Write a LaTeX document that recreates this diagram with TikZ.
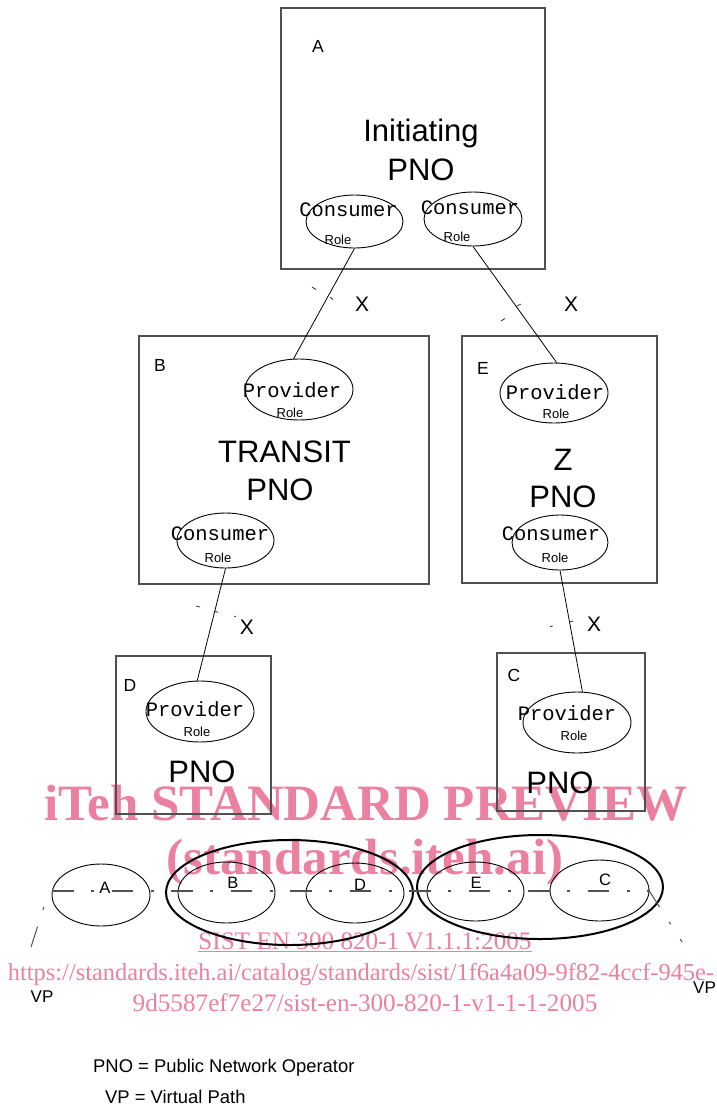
\documentclass[tikz,border=0pt]{standalone}
\usepackage{fontspec}
\setmainfont{Liberation Sans}
\newfontfamily\monofam{Liberation Mono}
\newfontfamily\seriffam{Liberation Serif}
\usetikzlibrary{shapes.geometric}
\definecolor{wmpink}{RGB}{236,128,160}
\definecolor{boxgray}{RGB}{80,80,80}
\tikzset{
 pnobox/.style={draw=boxgray, line width=1.2pt, rectangle, inner sep=0pt},
 roleell/.style={draw, ellipse, line width=0.9pt, inner sep=0pt},
 bigell/.style={draw, ellipse, line width=2pt, inner sep=0pt},
 monotxt/.style={font=\monofam\fontsize{20.5}{22}\selectfont, inner sep=0pt},
 roletxt/.style={font=\fontsize{13}{15}\selectfont, inner sep=0pt},
 bigtxt/.style={font=\fontsize{31}{33}\selectfont, inner sep=0pt},
 lettxt/.style={font=\fontsize{17.5}{19}\selectfont, inner sep=0pt},
 rowtxt/.style={font=\fontsize{16.5}{18}\selectfont, inner sep=0pt},
 xtxt/.style={font=\fontsize{21}{23}\selectfont, inner sep=0pt},
 link/.style={line width=0.8pt},
 tickmark/.style={line width=0.6pt},
 vpline/.style={line width=1.4pt, draw=boxgray, dash pattern=on 21.5pt off 17.5pt on 3pt off 17.5pt},
 wmbig/.style={font=\seriffam\bfseries\fontsize{51}{53}\selectfont, text=wmpink, inner sep=0pt, anchor=base},
 wmsmall/.style={font=\seriffam\fontsize{24.4}{26}\selectfont, text=wmpink, inner sep=0pt, anchor=base},
 legtxt/.style={font=\fontsize{18.4}{20}\selectfont, inner sep=0pt, anchor=west},
}
\begin{document}
\begin{tikzpicture}[x=1pt,y=-1pt]
\useasboundingbox (0,0) rectangle (716,1109);
\fill[white] (0,0) rectangle (716,1109);

% watermark (behind)
\node[wmbig] (wm1) at (366,820) {iTeh STANDARD PREVIEW};
\node[wmbig] (wm2) at (365,874) {(standards.iteh.ai)};
\node[wmsmall, font=\seriffam\fontsize{25.2}{27}\selectfont] (wm3) at (365,949) {\underline{SIST EN 300 820-1 V1.1.1:2005}};
\node[wmsmall] (wm4) at (361,980) {https://standards.iteh.ai/catalog/standards/sist/1f6a4a09-9f82-4ccf-945e-};
\node[wmsmall, font=\seriffam\fontsize{25.2}{27}\selectfont] (wm5) at (365,1011) {9d5587ef7e27/sist-en-300-820-1-v1-1-1-2005};

% boxes
\node[pnobox, minimum width=264pt, minimum height=261pt] (boxA) at (413,138.5) {};
\node[pnobox, minimum width=290pt, minimum height=248pt] (boxB) at (284,460) {};
\node[pnobox, minimum width=195pt, minimum height=247pt] (boxE) at (559.5,459.5) {};
\node[pnobox, minimum width=155pt, minimum height=158pt] (boxD) at (193.5,735) {};
\node[pnobox, minimum width=148pt, minimum height=158pt] (boxC) at (571,732) {};

% box A
\node[lettxt] (la) at (318,46) {A};
\node[bigtxt] (ta1) at (421,133) {Initiating};
\node[bigtxt] (ta2) at (421,170) {PNO};
\node[roleell, minimum width=97pt, minimum height=53pt] (ca1) at (354.5,221.5) {};
\node[roleell, minimum width=98pt, minimum height=54pt] (ca2) at (473,219) {};
\node[monotxt] (ca1t) at (348.5,210) {Consumer};
\node[monotxt] (ca2t) at (470,208) {Consumer};
\node[roletxt] (ca1r) at (338,240) {Role};
\node[roletxt] (ca2r) at (457,237) {Role};

% box B
\node[lettxt] (lb) at (160,365) {B};
\node[roleell, minimum width=108pt, minimum height=61pt] (pb) at (299,389.5) {};
\node[monotxt] (pbt) at (292,390) {Provider};
\node[roletxt] (pbr) at (290,413) {Role};
\node[bigtxt] (tb1) at (284.5,452) {TRANSIT};
\node[bigtxt] (tb2) at (280,490) {PNO};
\node[roleell, minimum width=97pt, minimum height=55pt] (cb) at (225.5,540.5) {};
\node[monotxt] (cbt) at (220,534) {Consumer};
\node[roletxt] (cbr) at (218,558) {Role};

% box E
\node[lettxt] (le) at (483,368) {E};
\node[roleell, minimum width=108pt, minimum height=60pt] (pe) at (554,393) {};
\node[monotxt] (pet) at (555,392) {Provider};
\node[roletxt] (per) at (556,414) {Role};
\node[bigtxt] (te1) at (563,460) {Z};
\node[bigtxt] (te2) at (563,497) {PNO};
\node[roleell, minimum width=96pt, minimum height=55pt] (ce) at (560,542.5) {};
\node[monotxt] (cet) at (551,534) {Consumer};
\node[roletxt] (cer) at (555,558) {Role};

% box D
\node[lettxt] (ld) at (130,685) {D};
\node[roleell, minimum width=108pt, minimum height=61pt] (pd) at (200,711.5) {};
\node[monotxt] (pdt) at (195,709) {Provider};
\node[roletxt] (pdr) at (197,732) {Role};
\node[bigtxt] (td) at (202,772) {PNO};

% box C
\node[lettxt] (lc) at (514,675) {C};
\node[roleell, minimum width=108pt, minimum height=61pt] (pc) at (577,722.5) {};
\node[monotxt] (pct) at (567,713) {Provider};
\node[roletxt] (pcr) at (574,736) {Role};
\node[bigtxt] (tc) at (560,783) {PNO};

% links
\draw[link] (ca1.south) -- (pb.100);
\draw[link] (ca2.south) -- (pe.85);
\draw[link] (cb.south) -- (pd.95);
\draw[link] (ce.south) -- (pc.80);

% X labels and tick marks
\node[xtxt] (x1) at (362,304) {X};
\node[xtxt] (x2) at (571,304) {X};
\node[xtxt] (x3) at (247,627) {X};
\node[xtxt] (x4) at (594,624) {X};
\draw[tickmark] (312,287) -- (316,289.5);
\draw[tickmark] (330,297) -- (333,299.5);
\draw[tickmark] (517,306) -- (521,304);
\draw[tickmark] (501,321) -- (505,318.5);
\draw[tickmark] (196,606) -- (200,607);
\draw[tickmark] (215,611) -- (218,612.5);
\draw[tickmark] (234,616) -- (236,616.5);
\draw[tickmark] (550,626.5) -- (553,626);
\draw[tickmark] (570,622) -- (573,621);

% bottom row
\node[roleell, minimum width=98pt, minimum height=62pt] (ra) at (101,895) {};
\node[roleell, minimum width=97pt, minimum height=61pt] (rb) at (226.5,892.5) {};
\node[roleell, minimum width=98pt, minimum height=60pt] (rd) at (355,893) {};
\node[roleell, minimum width=97pt, minimum height=59pt] (re) at (475.5,891.5) {};
\node[roleell, minimum width=99pt, minimum height=61pt] (rc) at (599.5,890.5) {};
\node[bigell, minimum width=247pt, minimum height=105pt] (gbd) at (289.5,892.5) {};
\node[bigell, minimum width=246pt, minimum height=104pt] (gec) at (540,887) {};
\node[rowtxt] (ta) at (105,888) {A};
\node[rowtxt] (tb) at (233,883) {B};
\node[rowtxt] (tdd) at (360,885) {D};
\node[rowtxt] (tee) at (476,883) {E};
\node[rowtxt] (tcc) at (605,880) {C};
\coordinate (vpa) at (52,891);
\coordinate (vpb) at (650,891);
\draw[vpline] (vpa) -- (vpb);
\coordinate (vr1) at (648,889);
\coordinate (vr2) at (682,942);
\draw[vpline, line width=1pt] (vr1) -- (vr2);
\coordinate (vl1) at (31,947);
\coordinate (vl2) at (44.5,905);
\draw[vpline, line width=1pt] (vl1) -- (vl2);
\node[rowtxt, font=\fontsize{17}{19}\selectfont] (vpl) at (42,997) {VP};
\node[rowtxt, font=\fontsize{17}{19}\selectfont, anchor=west] (vpr) at (693,988) {VP};

% legend
\node[legtxt] (leg1) at (93,1068) {PNO = Public Network Operator};
\node[legtxt] (leg2) at (105,1097) {VP = Virtual Path};
\end{tikzpicture}
\end{document}
